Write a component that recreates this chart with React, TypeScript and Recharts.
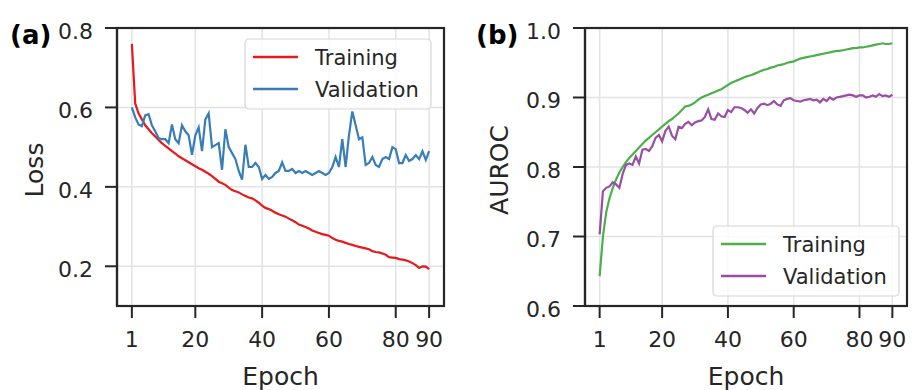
import React from 'react';
import {
  LineChart,
  Line,
  XAxis,
  YAxis,
  CartesianGrid,
  Legend,
} from 'recharts';

const FONT = '"DejaVu Sans", sans-serif';
const INK = '#262626';

// epochs 1..90
const epochs = Array.from({ length: 90 }, (_, i) => i + 1);
const epochTicks = [1, 20, 40, 60, 80, 90];

const trainLoss = [
  0.76, 0.61, 0.585, 0.57, 0.555, 0.545, 0.535, 0.527, 0.518, 0.51,
  0.503, 0.497, 0.49, 0.484, 0.477, 0.472, 0.467, 0.462, 0.457, 0.452,
  0.447, 0.443, 0.438, 0.433, 0.427, 0.42, 0.413, 0.409, 0.405, 0.398,
  0.392, 0.389, 0.386, 0.381, 0.377, 0.373, 0.371, 0.366, 0.36, 0.353,
  0.347, 0.344, 0.34, 0.335, 0.331, 0.328, 0.325, 0.32, 0.316, 0.311,
  0.305, 0.302, 0.299, 0.295, 0.29, 0.287, 0.284, 0.281, 0.279, 0.277,
  0.271, 0.267, 0.264, 0.262, 0.259, 0.256, 0.254, 0.251, 0.249, 0.247,
  0.245, 0.243, 0.238, 0.236, 0.235, 0.232, 0.229, 0.223, 0.222, 0.221,
  0.218, 0.217, 0.215, 0.212, 0.208, 0.203, 0.196, 0.2, 0.199, 0.193,
];

const valLoss = [
  0.6, 0.575, 0.557, 0.553, 0.58, 0.583, 0.555, 0.54, 0.523, 0.52,
  0.52, 0.51, 0.557, 0.52, 0.51, 0.555, 0.54, 0.53, 0.481, 0.53,
  0.55, 0.49, 0.57, 0.585, 0.5, 0.505, 0.51, 0.443, 0.545, 0.5,
  0.485, 0.47, 0.44, 0.418, 0.506, 0.45, 0.45, 0.46, 0.45, 0.42,
  0.43, 0.42, 0.425, 0.435, 0.44, 0.462, 0.44, 0.44, 0.445, 0.435,
  0.44, 0.435, 0.44, 0.435, 0.43, 0.435, 0.44, 0.435, 0.43, 0.435,
  0.45, 0.475, 0.45, 0.52, 0.45, 0.53, 0.59, 0.555, 0.52, 0.525,
  0.455, 0.46, 0.475, 0.455, 0.45, 0.47, 0.475, 0.47, 0.5, 0.495,
  0.46, 0.46, 0.48, 0.465, 0.47, 0.48, 0.47, 0.49, 0.468, 0.49,
];

const trainAuc = [
  0.643, 0.7, 0.735, 0.755, 0.77, 0.782, 0.792, 0.8, 0.807, 0.813,
  0.818, 0.823, 0.828, 0.833, 0.838, 0.842, 0.846, 0.85, 0.854, 0.858,
  0.862, 0.866, 0.869, 0.873, 0.877, 0.882, 0.887, 0.888, 0.89, 0.893,
  0.897, 0.9, 0.902, 0.904, 0.906, 0.908, 0.91, 0.912, 0.915, 0.918,
  0.921, 0.923, 0.925, 0.927, 0.929, 0.931, 0.932, 0.934, 0.936, 0.938,
  0.94, 0.941, 0.943, 0.944, 0.946, 0.947, 0.948, 0.95, 0.951, 0.952,
  0.954, 0.956, 0.957, 0.958, 0.959, 0.96, 0.961, 0.962, 0.963, 0.964,
  0.965, 0.966, 0.967, 0.967, 0.968, 0.969, 0.97, 0.971, 0.971, 0.972,
  0.972, 0.973, 0.974, 0.975, 0.976, 0.977, 0.978, 0.977, 0.977, 0.978,
];

const valAuc = [
  0.703, 0.765, 0.77, 0.772, 0.778, 0.775, 0.77, 0.79, 0.803, 0.805,
  0.803, 0.815, 0.805, 0.825, 0.826, 0.823, 0.83, 0.842, 0.846, 0.837,
  0.852, 0.858, 0.845, 0.84, 0.858, 0.856, 0.862, 0.865, 0.86, 0.864,
  0.866, 0.867, 0.872, 0.883, 0.869, 0.868, 0.877, 0.873, 0.872, 0.882,
  0.879, 0.886, 0.886, 0.885, 0.882, 0.878, 0.883, 0.877, 0.885, 0.89,
  0.891, 0.889, 0.891, 0.895, 0.89, 0.888, 0.896, 0.898, 0.899, 0.896,
  0.895, 0.894, 0.896, 0.897, 0.898, 0.896, 0.897, 0.893, 0.898, 0.895,
  0.9, 0.897, 0.9, 0.901, 0.902, 0.903, 0.904, 0.903, 0.901, 0.903,
  0.903, 0.9, 0.901, 0.903, 0.901, 0.905, 0.902, 0.903, 0.901, 0.904,
];

const lossTicks = [0.2, 0.4, 0.6, 0.8];
const aucTicks = [0.6, 0.7, 0.8, 0.9, 1.0];

const lossRows = epochs.map((e, i) => ({ epoch: e, train: trainLoss[i], val: valLoss[i] }));
const aucRows = epochs.map((e, i) => ({ epoch: e, train: trainAuc[i], val: valAuc[i] }));

// matplotlib-style 5% margin around 1..90
const X_DOMAIN: [number, number] = [-3.45, 94.45];
const CHART_H = 390;
const PLOT_TOP = 28;
const MARGIN_BOTTOM = 24;
const X_AXIS_H = 60;
const PLOT_BOTTOM = CHART_H - MARGIN_BOTTOM - X_AXIS_H;

interface SeriesDef {
  key: string;
  name: string;
  color: string;
}

interface PanelProps {
  width: number;
  plotLeft: number;
  plotRight: number;
  tag: string;
  tagX: number;
  yLabel: string;
  yLabelX: number;
  yDomain: [number, number];
  yTicks: number[];
  rows: any[];
  series: SeriesDef[];
  legendAt: { left: number; top: number };
}

// overlay covering the axes box: spines + legend box
const FrameAndLegend = ({
  series,
  plotW,
  plotH,
  boxX,
  boxY,
}: {
  series: SeriesDef[];
  plotW: number;
  plotH: number;
  boxX: number;
  boxY: number;
}) => (
  <svg width={plotW + 4} height={plotH + 4} style={{ display: 'block', overflow: 'visible' }}>
    <rect x={2} y={2} width={plotW} height={plotH} fill="none" stroke={INK} strokeWidth={2.2} />
    <g transform={`translate(${boxX},${boxY})`}>
      <rect x={1} y={1} width={186} height={70} rx={4} ry={4} fill="#fff" fillOpacity={0.8} stroke="#d6d6d6" strokeWidth={1.2} />
      {series.map((s, i) => (
        <g key={s.key}>
          <line x1={9} x2={54} y1={19 + i * 32} y2={19 + i * 32} stroke={s.color} strokeWidth={2.4} />
          <text x={71} y={27 + i * 32} fontSize={21} fontFamily={FONT} fill={INK}>
            {s.name}
          </text>
        </g>
      ))}
    </g>
  </svg>
);

const frameLine = { stroke: INK, strokeWidth: 2.2 };

const Panel: React.FC<PanelProps> = ({
  width,
  plotLeft,
  plotRight,
  tag,
  tagX,
  yLabel,
  yLabelX,
  yDomain,
  yTicks,
  rows,
  series,
  legendAt,
}) => {
  const tickStyle = { fill: INK, fontSize: 22, fontFamily: FONT };
  const plotW = plotRight - plotLeft;
  const plotH = PLOT_BOTTOM - PLOT_TOP;
  return (
    <LineChart
      width={width}
      height={CHART_H}
      data={rows}
      margin={{ top: PLOT_TOP, right: width - plotRight, bottom: MARGIN_BOTTOM, left: 0 }}
    >
      <CartesianGrid stroke="#e3e3e3" strokeWidth={1.5} />
      <XAxis
        dataKey="epoch"
        type="number"
        domain={X_DOMAIN}
        ticks={epochTicks}
        allowDataOverflow
        height={X_AXIS_H}
        axisLine={frameLine}
        tickSize={12}
        tickMargin={13}
        tickLine={{ stroke: INK, strokeWidth: 2 }}
        tick={tickStyle}
        label={{
          content: (props: any) => {
            const vb = props.viewBox || {};
            const x0 = Number.isFinite(vb.x) ? vb.x : plotLeft;
            const w = Number.isFinite(vb.width) ? vb.width : plotW;
            return (
              <text x={x0 + w / 2} y={385} textAnchor="middle" fontSize={25} fontFamily={FONT} fill={INK}>
                Epoch
              </text>
            );
          },
        }}
      />
      <YAxis
        type="number"
        domain={yDomain}
        ticks={yTicks}
        allowDataOverflow
        width={plotLeft}
        axisLine={frameLine}
        tickSize={12}
        tickMargin={12}
        tickLine={{ stroke: INK, strokeWidth: 2 }}
        tick={{ ...tickStyle, dy: 3 }}
        tickFormatter={(v: number) => v.toFixed(1)}
        label={{
          content: () => (
            <g>
              <text
                x={yLabelX}
                y={170}
                transform={`rotate(-90 ${yLabelX} 170)`}
                textAnchor="middle"
                fontSize={25}
                fontFamily={FONT}
                fill={INK}
              >
                {yLabel}
              </text>
              <text x={tagX} y={44} fontSize={26} fontWeight="bold" fontFamily={FONT} fill="#000">
                {tag}
              </text>
            </g>
          ),
        }}
      />
      {series.map((s) => (
        <Line
          key={s.key}
          type="linear"
          dataKey={s.key}
          name={s.name}
          stroke={s.color}
          strokeWidth={2.2}
          dot={false}
          isAnimationActive={false}
        />
      ))}
      <Legend
        layout="horizontal"
        verticalAlign="middle"
        align="center"
        content={() => (
          <FrameAndLegend
            series={series}
            plotW={plotW}
            plotH={plotH}
            boxX={legendAt.left - (plotLeft - 2)}
            boxY={legendAt.top - (PLOT_TOP - 2)}
          />
        )}
        wrapperStyle={{
          left: plotLeft - 2,
          top: PLOT_TOP - 2,
          width: plotW + 4,
          height: plotH + 4,
          pointerEvents: 'none',
        }}
      />
    </LineChart>
  );
};

export default function App() {
  return (
    <div
      style={{
        position: 'absolute',
        left: 0,
        top: 0,
        width: 912,
        height: 390,
        background: '#fff',
        fontFamily: FONT,
        display: 'flex',
      }}
    >
      <Panel
        width={460}
        plotLeft={117}
        plotRight={444}
        tag="(a)"
        tagX={10}
        yLabel="Loss"
        yLabelX={43}
        yDomain={[0.1, 0.8]}
        yTicks={lossTicks}
        rows={lossRows}
        series={[
          { key: 'train', name: 'Training', color: '#e41a1c' },
          { key: 'val', name: 'Validation', color: '#377eb8' },
        ]}
        legendAt={{ left: 244, top: 38 }}
      />
      <Panel
        width={452}
        plotLeft={125}
        plotRight={447}
        tag="(b)"
        tagX={16}
        yLabel="AUROC"
        yLabelX={48}
        yDomain={[0.6, 1.0]}
        yTicks={aucTicks}
        rows={aucRows}
        series={[
          { key: 'train', name: 'Training', color: '#4daf4a' },
          { key: 'val', name: 'Validation', color: '#984ea3' },
        ]}
        legendAt={{ left: 252, top: 225 }}
      />
    </div>
  );
}
